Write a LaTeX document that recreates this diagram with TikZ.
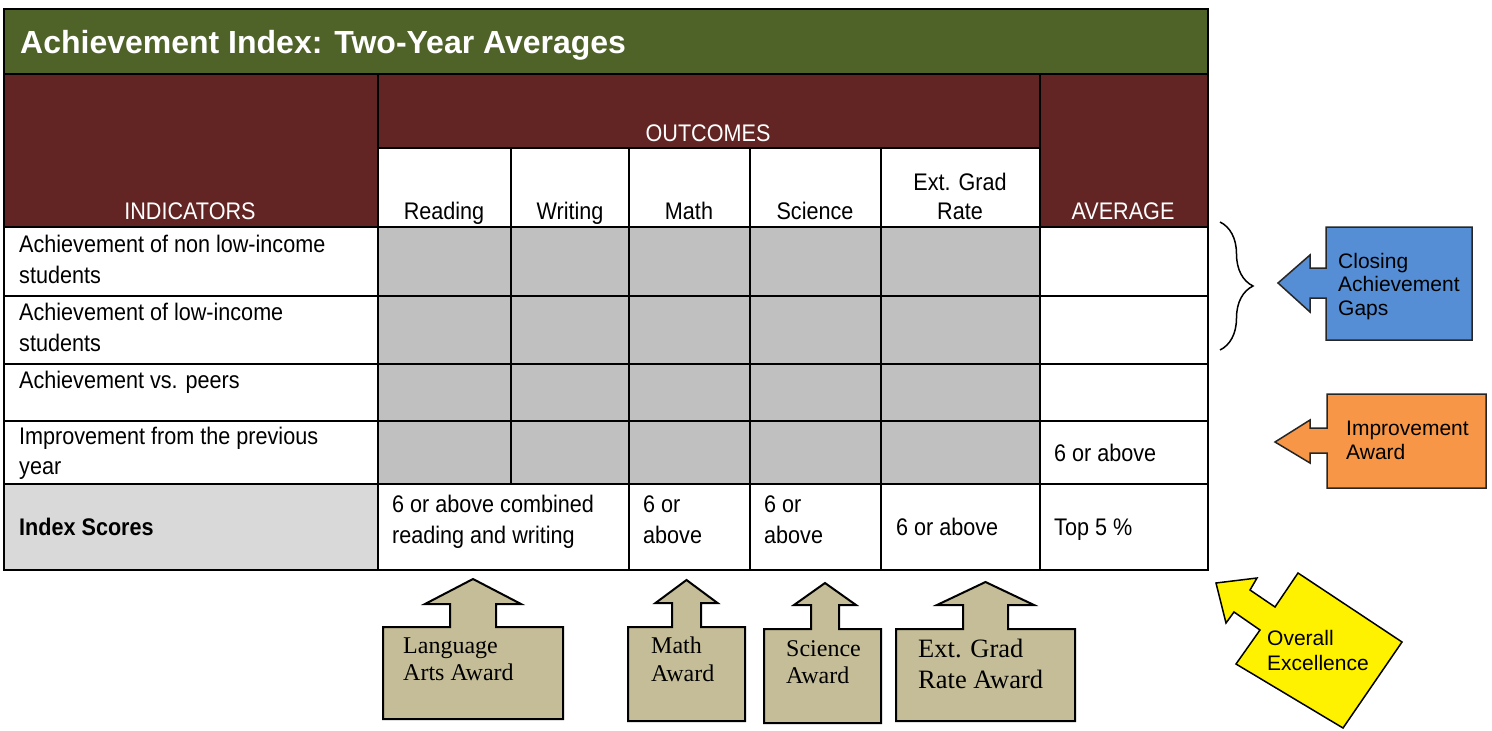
\documentclass[tikz,border=0pt]{standalone}
\usepackage{fontspec}
\setmainfont{Liberation Sans}
\newfontfamily\narrowfont[FakeStretch=0.9]{Liberation Sans}
\newfontfamily\awardfont{Liberation Serif}
\usepackage{tikz}
\usetikzlibrary{decorations.pathreplacing}
\definecolor{titlegreen}{HTML}{4F6228}
\definecolor{hdrmaroon}{HTML}{632523}
\definecolor{cellgray}{HTML}{C0C0C0}
\definecolor{idxgray}{HTML}{D9D9D9}
\definecolor{awardtan}{HTML}{C4BD97}
\definecolor{gapblue}{HTML}{558ED5}
\definecolor{imporange}{HTML}{F79646}
\newcommand{\tcell}[5]{\fill[#5] ( #1 , #2 ) rectangle ( #3 , #4 );}
\newcommand{\lbl}[5]{\node[#1] (#2) at ( #3 , #4 ) {#5};}
\newcommand{\upaward}[9]{\filldraw[award] (#1,#3) -- (#5,#3) -- (#5,#8) -- ({(#5+#6)/2-#7},#8) -- ({(#5+#6)/2},#9) -- ({(#5+#6)/2+#7},#8) -- (#6,#8) -- (#6,#3) -- (#2,#3) -- (#2,#4) -- (#1,#4) -- cycle;}

\begin{document}
\begin{tikzpicture}[x=1pt,y=-1pt,
    grid/.style={line width=2.2pt},
    award/.style={fill=awardtan,draw=black,line width=2pt},
    ttl/.style={anchor=base west,inner sep=0pt,text=white,font=\bfseries\fontsize{32}{38}\selectfont},
    hdr/.style={anchor=base,inner sep=0pt,text=white,font=\narrowfont\fontsize{24}{29}\selectfont},
    colhd/.style={anchor=base,inner sep=0pt,font=\narrowfont\fontsize{24}{29}\selectfont},
    tbl/.style={anchor=base west,inner sep=0pt,font=\narrowfont\fontsize{24}{29}\selectfont},
    side/.style={anchor=base west,inner sep=0pt,font=\fontsize{21}{24}\selectfont},
    awd/.style={anchor=base west,inner sep=0pt,font=\awardfont\fontsize{24}{28}\selectfont},
    awdbig/.style={anchor=base west,inner sep=0pt,font=\awardfont\fontsize{26.5}{31}\selectfont}]
        \useasboundingbox (0,0) rectangle (1492,731);

        % header fills
        \tcell{4}{9}{1208}{74}{titlegreen}
        \tcell{4}{74}{1208}{227}{hdrmaroon}
        \tcell{378}{148}{1040}{227}{white}
        % grey cells
        \tcell{378}{227}{1040}{484}{cellgray}
        \tcell{4}{484}{378}{570}{idxgray}

        % grid
        \draw[grid] (4,9) rectangle (1208,570);
        \draw[grid] (4,74) -- (1208,74);
        \draw[grid] (378,148) -- (1040,148);
        \draw[grid] (4,227) -- (1208,227);
        \draw[grid] (4,296) -- (1208,296);
        \draw[grid] (4,364) -- (1208,364);
        \draw[grid] (4,421) -- (1208,421);
        \draw[grid] (4,484) -- (1208,484);
        \draw[grid] (378,74) -- (378,570);
        \draw[grid] (1040,74) -- (1040,570);
        \draw[grid] (511,148) -- (511,484);
        \draw[grid] (629,148) -- (629,570);
        \draw[grid] (750,148) -- (750,570);
        \draw[grid] (881,148) -- (881,570);

        % header text
        \lbl{ttl}{title}{20}{53}{Achievement Index: Two-Year Averages}
        \lbl{hdr}{outcomes}{708}{141}{OUTCOMES}
        \lbl{hdr}{indicators}{190}{219}{INDICATORS}
        \lbl{hdr}{average}{1123}{219}{AVERAGE}
        \lbl{colhd}{reading}{444}{219}{Reading}
        \lbl{colhd}{writing}{570}{219}{Writing}
        \lbl{colhd}{math}{689}{219}{Math}
        \lbl{colhd}{science}{815}{219}{Science}
        \lbl{colhd}{extgrad}{960}{190}{Ext. Grad}
        \lbl{colhd}{rate}{960}{219}{Rate}

        % rows
        \lbl{tbl}{nonlow}{19}{252}{Achievement of non low-income}
        \lbl{tbl}{nonlowb}{19}{283}{students}
        \lbl{tbl}{low}{19}{320}{Achievement of low-income}
        \lbl{tbl}{lowb}{19}{351}{students}
        \lbl{tbl}{peers}{19}{388}{Achievement vs. peers}
        \lbl{tbl}{improve}{19}{444}{Improvement from the previous}
        \lbl{tbl}{improveb}{19}{474}{year}
        \lbl{tbl}{impavg}{1054}{461}{6 or above}

        % index scores
        \lbl{tbl,font=\narrowfont\bfseries\fontsize{24}{29}\selectfont}{index}{19}{535}{Index Scores}
        \lbl{tbl}{langscore}{392}{512}{6 or above combined}
        \lbl{tbl}{langscoreb}{392}{543}{reading and writing}
        \lbl{tbl}{mathscore}{643}{512}{6 or}
        \lbl{tbl}{mathscoreb}{643}{543}{above}
        \lbl{tbl}{sciscore}{764}{512}{6 or}
        \lbl{tbl}{sciscoreb}{764}{543}{above}
        \lbl{tbl}{gradscore}{896}{535}{6 or above}
        \lbl{tbl}{topscore}{1054}{535}{Top 5 \%}

        % gaps brace and side arrows
        \draw[line width=1.5pt,decorate,decoration={brace,amplitude=33pt}] (1220,222) -- (1220,350);
        \filldraw[fill=gapblue,draw=black!85,line width=1.5pt] (1472,227) -- (1472,340) -- (1326,340) -- (1326,298) -- (1310,298) -- (1310,312) -- (1278,283) -- (1310,255) -- (1310,268) -- (1326,268) -- (1326,227) -- cycle;
        \filldraw[fill=imporange,draw=black!85,line width=1.5pt] (1486,394) -- (1486,488) -- (1327,488) -- (1327,453) -- (1310,453) -- (1310,463) -- (1275,442) -- (1310,420) -- (1310,428) -- (1327,428) -- (1327,394) -- cycle;
        \filldraw[fill=yellow,draw=black,line width=1.5pt] (1216,583) -- (1257,578) -- (1250,590) -- (1275,607) -- (1298,573) -- (1402,642) -- (1343,728) -- (1236,664) -- (1260,630) -- (1234,612) -- (1226,623) -- cycle;
        \lbl{side}{closing}{1338}{268}{Closing}
        \lbl{side}{closingb}{1338}{291}{Achievement}
        \lbl{side}{closingc}{1338}{315}{Gaps}
        \lbl{side}{improvement}{1346}{435}{Improvement}
        \lbl{side}{improvementb}{1346}{459}{Award}
        \lbl{side}{overall}{1267}{645}{Overall}
        \lbl{side}{overallb}{1267}{670}{Excellence}

        % award arrows
        \upaward{383}{563}{627}{719}{450}{496}{48}{604}{579}
        \upaward{628}{745}{627}{721}{672}{701}{31}{603}{580}
        \upaward{764}{881}{629}{723}{811}{839}{31}{605}{583}
        \upaward{896}{1075}{629}{721}{963}{1008}{48.5}{605}{582}
        \lbl{awd}{lang}{403}{653}{Language}
        \lbl{awd}{langb}{403}{680}{Arts Award}
        \lbl{awd}{mathaw}{651}{653}{Math}
        \lbl{awd}{mathawb}{651}{681}{Award}
        \lbl{awd}{sciaw}{786}{656}{Science}
        \lbl{awd}{sciawb}{786}{683}{Award}
        \lbl{awdbig}{gradaw}{918}{657}{Ext. Grad}
        \lbl{awdbig}{gradawb}{918}{688}{Rate Award}

    \end{tikzpicture}
\end{document}
